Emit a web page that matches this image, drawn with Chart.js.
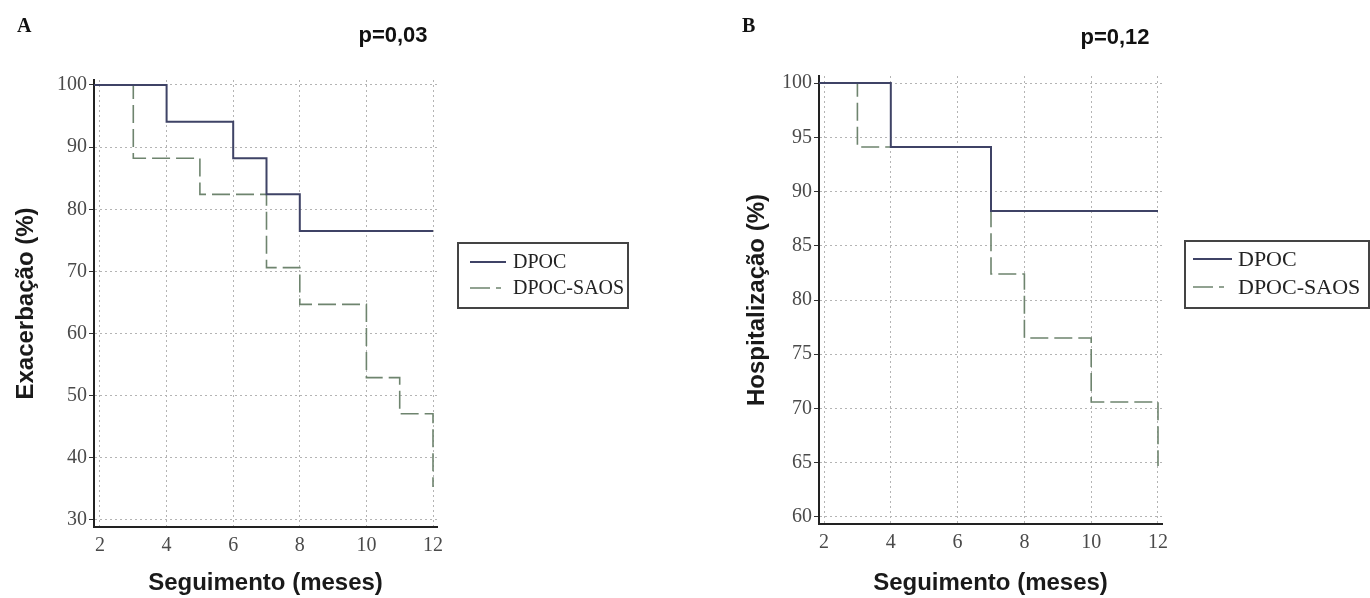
<!DOCTYPE html>
<html lang="pt">
<head>
<meta charset="utf-8">
<title>Exacerbação e hospitalização — DPOC vs DPOC-SAOS</title>
<script src="https://cdn.jsdelivr.net/npm/chart.js@4.4.1/dist/chart.umd.min.js"></script>
<style>
  html, body { margin: 0; padding: 0; background: #fff; }
  #wrap { position: relative; width: 1370px; height: 598px; }
  .painel { position: absolute; top: 0; width: 685px; height: 598px; }
</style>
</head>
<body>
<div id="wrap">
  <div class="painel" style="left:0"><canvas id="grafA" width="685" height="598"></canvas></div>
  <div class="painel" style="left:685px"><canvas id="grafB" width="685" height="598"></canvas></div>
</div>
<script>
// meses de seguimento (eixo x comum)
const mesesTicks = [2, 4, 6, 8, 10, 12];
const grupos = ['DPOC', 'DPOC-SAOS'];

// A — livre de exacerbação (%)
const exaTicks = [30, 40, 50, 60, 70, 80, 90, 100];
const exaDpocMeses = [0, 4, 6, 7, 8, 12];
const exaDpoc = [100, 94.1, 88.2, 82.4, 76.5, 76.5];
const exaSaosMeses = [0, 3, 5, 7, 8, 10, 11, 12];
const exaSaos = [100, 88.2, 82.4, 70.6, 64.7, 52.9, 47.1, 35.3];

// B — livre de hospitalização (%)
const hospTicks = [60, 65, 70, 75, 80, 85, 90, 95, 100];
const hospDpocMeses = [0, 4, 7, 12];
const hospDpoc = [100, 94.1, 88.2, 88.2];
const hospSaosMeses = [0, 3, 7, 8, 10, 12];
const hospSaos = [100, 94.1, 82.4, 76.5, 70.6, 64.7];

const corDpoc = '#3f4366';
const corSaos = '#6e846e';
const tracoSaos = [18, 6];

function pontos(meses, valores) {
    return meses.map((m, i) => ({ x: m, y: valores[i] }));
}

// letra do painel, valor de p e caixa de legenda
const textosPainel = {
    id: 'textosPainel',
    afterDraw(chart, args, o) {
        const ctx = chart.ctx;
        ctx.save();
        ctx.fillStyle = '#111';
        ctx.font = "bold 20px 'Liberation Serif'";
        ctx.textAlign = 'left';
        ctx.textBaseline = 'alphabetic';
        ctx.fillText(o.letra, o.letraX, 32);

        ctx.font = "bold 22px 'Liberation Sans'";
        ctx.textAlign = 'center';
        ctx.fillText(o.p, o.pX, o.pY);

        const lg = o.legenda;
        ctx.strokeStyle = '#444';
        ctx.lineWidth = 2;
        ctx.strokeRect(lg.x, lg.y, lg.w, lg.h);

        ctx.font = lg.fonte + "px 'Liberation Serif'";
        ctx.textAlign = 'left';
        ctx.textBaseline = 'middle';
        ctx.fillStyle = '#222';
        const estilos = [
            { cor: corDpoc, largura: 2, traco: [] },
            { cor: corSaos, largura: 1.6, traco: [20, 6, 5, 20] },
        ];
        grupos.forEach((nome, i) => {
            const y = lg.linhas[i];
            ctx.beginPath();
            ctx.setLineDash(estilos[i].traco);
            ctx.strokeStyle = estilos[i].cor;
            ctx.lineWidth = estilos[i].largura;
            ctx.moveTo(lg.amostraX, y);
            ctx.lineTo(lg.amostraX + lg.amostraW, y);
            ctx.stroke();
            ctx.setLineDash([]);
            ctx.fillText(nome, lg.textoX, y + 1);
        });
        ctx.restore();
    },
};

function montaGrafico(id, c) {
    const eixoTexto = { family: "'Liberation Serif'", size: 20 };
    const tituloFonte = { family: "'Liberation Sans'", size: 24, weight: 'bold' };
    return new Chart(document.getElementById(id), {
        type: 'line',
        data: {
            datasets: [
                {
                    label: grupos[0],
                    data: pontos(c.dpocMeses, c.dpoc),
                    stepped: 'before',
                    borderColor: corDpoc,
                    borderWidth: 2,
                    pointRadius: 0,
                    fill: false,
                },
                {
                    label: grupos[1],
                    data: pontos(c.saosMeses, c.saos),
                    stepped: 'before',
                    borderColor: corSaos,
                    borderWidth: 1.6,
                    borderDash: tracoSaos,
                    pointRadius: 0,
                    fill: false,
                },
            ],
        },
        options: {
            responsive: false,
            animation: false,
            devicePixelRatio: 1,
            layout: {
                padding: { top: c.area.top, right: 685 - c.area.right, bottom: 0, left: 0 },
            },
            plugins: {
                legend: { display: false },
                tooltip: { enabled: false },
                textosPainel: c.textos,
            },
            scales: {
                x: {
                    type: 'linear',
                    min: c.xMin,
                    max: 12.12,
                    afterFit: (s) => { s.height = 598 - c.area.bottom; },
                    afterBuildTicks: (s) => { s.ticks = mesesTicks.map((v) => ({ value: v })); },
                    grid: { color: '#b4b4b4', lineWidth: 1, drawTicks: false },
                    border: { display: true, color: '#222', width: 2, dash: [2, 3] },
                    ticks: { font: eixoTexto, color: '#4a4a4a', padding: 7, maxRotation: 0 },
                    title: {
                        display: true,
                        text: 'Seguimento (meses)',
                        font: tituloFonte,
                        color: '#1a1a1a',
                        padding: { top: 0, bottom: 0 },
                    },
                },
                y: {
                    type: 'linear',
                    min: c.yMin,
                    max: c.yMax,
                    afterFit: (s) => { s.width = c.area.left; },
                    afterBuildTicks: (s) => { s.ticks = c.yTicks.map((v) => ({ value: v })); },
                    grid: {
                        color: '#b4b4b4',
                        lineWidth: 1,
                        drawTicks: true,
                        tickLength: 5,
                        tickColor: '#333',
                        tickBorderDash: [],
                    },
                    border: { display: true, color: '#222', width: 2, dash: [2, 3] },
                    ticks: { font: eixoTexto, color: '#4a4a4a', padding: 2 },
                    title: {
                        display: true,
                        text: c.yTitulo,
                        font: tituloFonte,
                        color: '#1a1a1a',
                        padding: { top: c.yTituloPad, bottom: 0 },
                    },
                },
            },
        },
        plugins: [textosPainel],
    });
}

montaGrafico('grafA', {
    dpocMeses: exaDpocMeses, dpoc: exaDpoc,
    saosMeses: exaSaosMeses, saos: exaSaos,
    yTicks: exaTicks, yMin: 28.87, yMax: 100.8, xMin: 1.82,
    yTitulo: 'Exacerbação (%)', yTituloPad: 11.6,
    area: { left: 94, right: 437, top: 80, bottom: 527 },
    textos: {
        letra: 'A', letraX: 17, p: 'p=0,03', pX: 393, pY: 42,
        legenda: {
            x: 458, y: 243, w: 170, h: 65, fonte: 20,
            amostraX: 470, amostraW: 36, textoX: 513, linhas: [262, 288],
        },
    },
});

montaGrafico('grafB', {
    dpocMeses: hospDpocMeses, dpoc: hospDpoc,
    saosMeses: hospSaosMeses, saos: hospSaos,
    yTicks: hospTicks, yMin: 59.35, yMax: 100.65, xMin: 1.85,
    yTitulo: 'Hospitalização (%)', yTituloPad: 57.6,
    area: { left: 134, right: 477, top: 76, bottom: 524 },
    textos: {
        letra: 'B', letraX: 57, p: 'p=0,12', pX: 430, pY: 44,
        legenda: {
            x: 500, y: 241, w: 184, h: 67, fonte: 22,
            amostraX: 508, amostraW: 39, textoX: 553, linhas: [259, 287],
        },
    },
});
</script>
</body>
</html>
